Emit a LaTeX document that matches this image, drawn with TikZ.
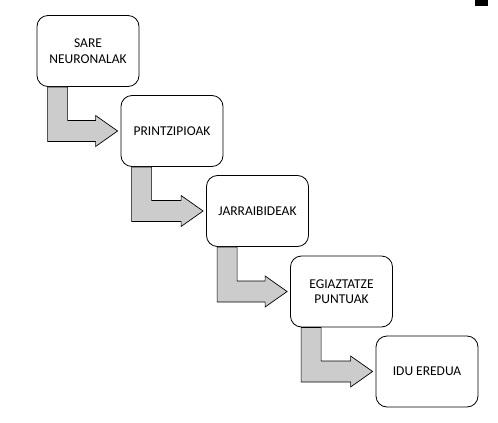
\documentclass[tikz,border=0pt]{standalone}
\usepackage{fontspec}
\setmainfont{Carlito}
\usetikzlibrary{calc}
\begin{document}
\begin{tikzpicture}[x=1pt,y=-1pt,
  stepbox/.style={draw=black,line width=0.8pt,rounded corners=11pt,minimum width=102pt,minimum height=71pt,align=center,font=\fontsize{13.5}{15.5}\selectfont,inner sep=2pt,fill=white},
  bentarrow/.style={draw=black,line width=0.7pt,fill=black!20,line join=miter}]
\useasboundingbox (0,0) rectangle (498,423);
\fill[black] (475,0) rectangle (488,6);
\node[stepbox] (b1) at (88,51) {SARE\\NEURONALAK};
\node[stepbox] (b2) at (172,131) {PRINTZIPIOAK};
\node[stepbox] (b3) at (257.5,211) {JARRAIBIDEAK};
\node[stepbox] (b4) at (341.5,291.5) {EGIAZTATZE\\PUNTUAK};
\node[stepbox] (b5) at (427,371.5) {IDU EREDUA};
\foreach \a/\b in {b1/b2,b2/b3,b3/b4,b4/b5}{
  \draw[bentarrow] ($(\a.south west)+(11pt,0)$) coordinate (s) -- ++(20pt,0)
    |- ($(\b.west)+(-25pt,10.5pt)$) -- ++(0,5pt) -- ($(\b.west)+(-3pt,0)$)
    -- ($(\b.west)+(-25pt,-15.5pt)$) -- ++(0,5pt) -| (s) -- cycle;
}
\end{tikzpicture}
\end{document}
